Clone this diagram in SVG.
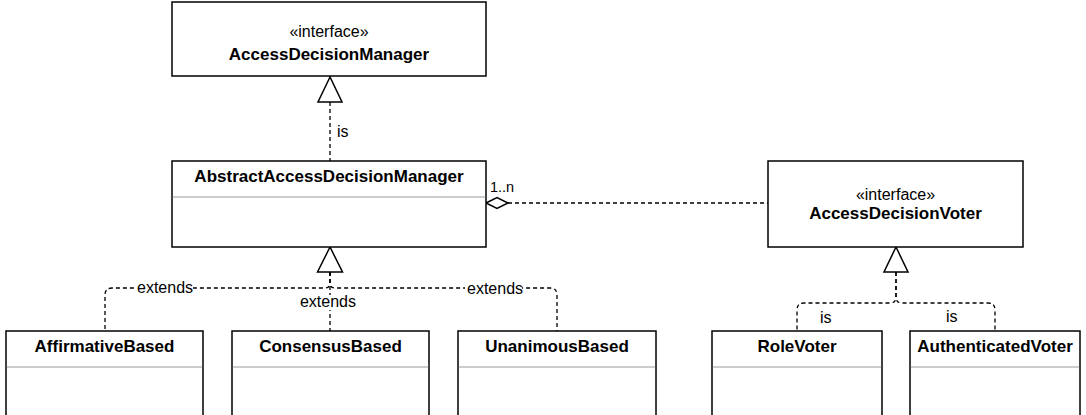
<svg xmlns="http://www.w3.org/2000/svg" width="1086" height="415" viewBox="0 0 1086 415">
  <style>
    .box { fill: #ffffff; stroke: #000000; stroke-width: 1.5; }
    .div { stroke: #9a9a9a; stroke-width: 1; fill: none; }
    .name { font-family: "Liberation Sans", Arial, sans-serif; font-weight: bold; font-size: 17px; fill: #000; text-anchor: middle; }
    .stereo { font-family: "Liberation Sans", Arial, sans-serif; font-size: 16px; fill: #000; text-anchor: middle; }
    .lbl { font-family: "Liberation Sans", Arial, sans-serif; font-size: 16px; fill: #000; }
    .dash { fill: none; stroke: #000; stroke-width: 1.3; stroke-dasharray: 4 3; }
    .head { fill: #ffffff; stroke: #000; stroke-width: 1.5; stroke-linejoin: miter; }
    .bg { fill: #ffffff; }
  </style>

  <rect width="1086" height="415" fill="#ffffff"/>

  <!-- connectors -->
  <g id="connectors">
    <!-- AbstractAccessDecisionManager realizes AccessDecisionManager -->
    <path class="dash" d="M330,102 V161"/>
    <polygon class="head" points="330,77 318,102 342,102"/>
    <text class="lbl" x="337" y="137">is</text>

    <!-- aggregation to AccessDecisionVoter -->
    <path class="dash" d="M508,203 H768"/>
    <polygon class="head" points="486,203 497,197.5 508,203 497,208.5"/>
    <text class="lbl" x="490" y="192" style="font-size:14.5px">1..n</text>

    <!-- extends branches -->
    <path class="dash" d="M330,272 V283 Q330,288 325,288 H112 Q105,288 105,295 V331"/>
    <path class="dash" d="M330,272 V283 Q330,288 335,288 H550 Q557,288 557,295 V331"/>
    <path class="dash" d="M330,272 V331"/>
    <polygon class="head" points="330,247 317.5,272 342.5,272"/>
    <rect class="bg" x="135" y="281" width="58" height="15"/>
    <text class="lbl" x="137" y="293">extends</text>
    <rect class="bg" x="465" y="282" width="57" height="15"/>
    <text class="lbl" x="467" y="294">extends</text>
    <rect class="bg" x="300" y="295" width="56" height="15"/>
    <text class="lbl" x="328" y="307" text-anchor="middle">extends</text>

    <!-- voter implementations -->
    <path class="dash" d="M896,272 V297 Q896,303 890,303 H804 Q797,303 797,310 V331"/>
    <path class="dash" d="M896,272 V297 Q896,303 902,303 H988 Q995,303 995,310 V331"/>
    <polygon class="head" points="896,247 884,272 908,272"/>
    <text class="lbl" x="820" y="323">is</text>
    <text class="lbl" x="946" y="322">is</text>
  </g>

  <!-- nodes -->
  <g id="AccessDecisionManager">
    <rect class="box" x="172" y="2" width="314" height="74"/>
    <text class="stereo" x="329" y="37">«interface»</text>
    <text class="name" x="329" y="60">AccessDecisionManager</text>
  </g>

  <g id="AbstractAccessDecisionManager">
    <rect class="box" x="172" y="161" width="314" height="86"/>
    <line class="div" x1="172.75" y1="197" x2="485.25" y2="197"/>
    <text class="name" x="329" y="182">AbstractAccessDecisionManager</text>
  </g>

  <g id="AccessDecisionVoter">
    <rect class="box" x="768" y="161" width="255" height="86"/>
    <text class="stereo" x="895.5" y="200">«interface»</text>
    <text class="name" x="895.5" y="219">AccessDecisionVoter</text>
  </g>

  <g id="AffirmativeBased">
    <rect class="box" x="6" y="331" width="197" height="100"/>
    <line class="div" x1="6.75" y1="367" x2="202.25" y2="367"/>
    <text class="name" x="104.5" y="352">AffirmativeBased</text>
  </g>

  <g id="ConsensusBased">
    <rect class="box" x="232" y="331" width="197" height="100"/>
    <line class="div" x1="232.75" y1="367" x2="428.25" y2="367"/>
    <text class="name" x="330.5" y="352">ConsensusBased</text>
  </g>

  <g id="UnanimousBased">
    <rect class="box" x="458" y="331" width="198" height="100"/>
    <line class="div" x1="458.75" y1="367" x2="655.25" y2="367"/>
    <text class="name" x="557" y="352">UnanimousBased</text>
  </g>

  <g id="RoleVoter">
    <rect class="box" x="712" y="331" width="170" height="100"/>
    <line class="div" x1="712.75" y1="367" x2="881.25" y2="367"/>
    <text class="name" x="797" y="352">RoleVoter</text>
  </g>

  <g id="AuthenticatedVoter">
    <rect class="box" x="910" y="331" width="170" height="100"/>
    <line class="div" x1="910.75" y1="367" x2="1079.25" y2="367"/>
    <text class="name" x="995" y="352">AuthenticatedVoter</text>
  </g>
</svg>
